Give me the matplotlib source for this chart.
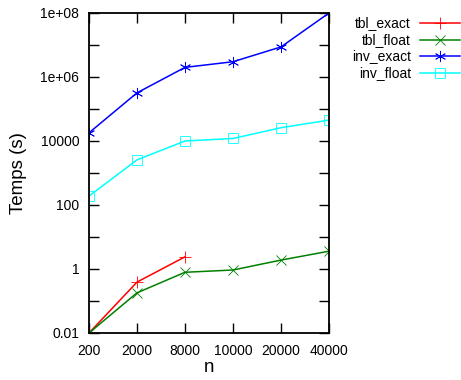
import matplotlib
matplotlib.use("Agg")
import matplotlib.pyplot as plt
from matplotlib.lines import Line2D
import numpy as np

plt.rcParams['font.family'] = ['Liberation Sans', 'DejaVu Sans']

n_labels = ["200", "2000", "8000", "10000", "20000", "40000"]
tbl_exact = [0.01, 0.39, 2.4]
tbl_float = [0.01, 0.18, 0.79, 0.93, 1.9, 3.6]
inv_exact = [1.8e4, 3.2e5, 2.0e6, 3.0e6, 8.7e6, 1.0e8]
inv_float = [190, 2570, 1.0e4, 1.2e4, 2.6e4, 4.5e4]

series = [
    ("tbl_exact", tbl_exact, "#ff0000", "+", dict(markersize=8)),
    ("tbl_float", tbl_float, "#008000", "x", dict(markersize=7)),
    ("inv_exact", inv_exact, "#0000ff", (6, 2, 0), dict(markersize=8)),
    ("inv_float", inv_float, "#00ffff", "s", dict(markersize=7, markerfacecolor="none")),
]

fig = plt.figure(figsize=(4.61, 3.80), dpi=100)
ax = fig.add_axes([89/461, 47/380, 240/461, 320/380])

for name, vals, col, mk, kw in series:
    x = np.arange(len(vals))
    ax.plot(x, vals, color=col, lw=1.1, marker=mk,
            markeredgewidth=0.6, **kw)

ax.set_yscale('log')
ax.set_ylim(0.01, 1e8)
ax.set_xlim(0, len(n_labels) - 1)
ax.set_xticks(np.arange(len(n_labels)))
ax.set_xticklabels(n_labels)
yt = [10.0**k for k in range(-2, 9)]
ax.set_yticks(yt)
lab = {0.01: "0.01", 1: "1", 100: "100", 1e4: "10000", 1e6: "1e+06", 1e8: "1e+08"}
ax.set_yticklabels([lab.get(v, "") if (round(np.log10(v)) % 2 == 0) else "" for v in yt])
ax.yaxis.set_minor_locator(matplotlib.ticker.NullLocator())
ax.tick_params(axis='both', which='major', direction='in', length=7, width=1,
               top=True, right=True, labelsize=10, colors='black')
ax.tick_params(axis='x', pad=8)
ax.tick_params(axis='y', pad=7)
for s in ax.spines.values():
    s.set_linewidth(1.3)

ax.set_xlabel("n", fontsize=13.5, labelpad=1)
ax.set_ylabel("Temps (s)", fontsize=13.5, labelpad=10)

# legend (gnuplot style: right-aligned label, then sample)
ys = [23, 40, 56, 73]
for (name, vals, col, mk, kw), yp in zip(series, ys):
    yf = 1 - yp / 380
    fig.text(411/461, yf, name, ha='right', va='center', fontsize=10)
    fig.add_artist(Line2D([420/461, 460/461], [yf, yf], color=col, lw=1.1,
                          transform=fig.transFigure))
    fig.add_artist(Line2D([440/461], [yf], color=col, marker=mk,
                          markeredgewidth=0.6, linestyle='none',
                          transform=fig.transFigure, **kw))

fig.savefig("out.png", dpi=100)
